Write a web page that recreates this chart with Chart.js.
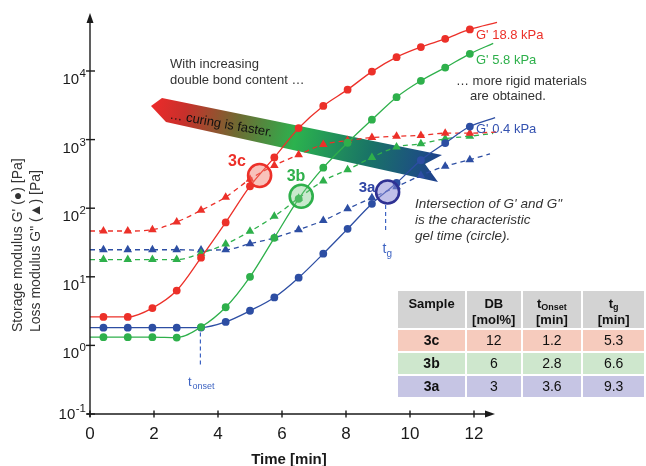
<!DOCTYPE html>
<html>
<head>
<meta charset="utf-8">
<script src="https://cdn.jsdelivr.net/npm/chart.js@4.4.1/dist/chart.umd.min.js"></script>
<style>
html,body{margin:0;padding:0;background:#fff;overflow:hidden;}
#wrap{position:relative;width:646px;height:466px;overflow:hidden;font-family:"Liberation Sans",Arial,Helvetica,sans-serif;}
#c{position:absolute;left:0;top:0;}
#tbl{position:absolute;left:396px;top:289px;border-collapse:collapse;table-layout:fixed;color:#111;}
#tbl td{border:2px solid #fff;text-align:center;padding:0;font-size:14px;box-sizing:border-box;}
#tbl tr.h td{background:#d3d3d3;font-weight:bold;font-size:13px;height:39px;vertical-align:top;padding-top:5px;line-height:16px;}
#tbl tr.r td{height:23px;line-height:19px;}
#tbl td.s{font-weight:bold;}
#tbl sub{font-size:9px;vertical-align:-2px;line-height:0;}
</style>
</head>
<body>
<div id="wrap">
<canvas id="c" width="646" height="466"></canvas>
<table id="tbl"><tbody id="tb"></tbody></table>
</div>
<script>
// ---------- data ----------
const times = [0.42,1.18,1.95,2.71,3.47,4.24,5.0,5.76,6.52,7.29,8.05,8.81,9.58,10.34,11.1,11.87];
const gp3c  = [2.6,2.6,3.5,6.3,19,62,209,550,1470,3100,5350,9800,15900,22300,29400,40300];
const gp3b  = [1.32,1.32,1.32,1.30,1.85,3.6,10,37,137,390,900,1950,4150,7200,11200,17800];
const gp3a  = [1.81,1.81,1.81,1.81,1.82,2.2,3.2,5.0,9.7,21.7,50,116,233,500,890,1550];
const gpp3c = [46.5,46.5,48.5,63,93,145,265,420,600,850,970,1070,1120,1150,1240,1240];
const gpp3b = [17.8,17.8,17.8,17.8,22,30,46,76,140,250,363,550,780,870,1030,1120];
const gpp3a = [24.8,24.8,24.8,24.8,24.5,24.8,30.3,37,48.6,66,98,142,205,300,410,510];
// fitted curves: value at t = 0 and where each curve ends (order: G'3c, G'3b, G'3a, G"3c, G"3b, G"3a)
const fitStartV = [2.6,1.32,1.81,46.5,17.8,24.8];
const fitEndT   = [12.72,12.6,12.66,12.7,12.6,12.5];
const fitEndV   = [51000,25300,2090,1290,1230,620];
// gel points (intersection of G' and G")
const gelLabels = ['3c','3b','3a'];
const gelT = [5.3,6.6,9.3];
const gelV = [300,149,172];
// onset
const onsetT = 3.45;
// axis ticks
const xTicks = [0,2,4,6,8,10,12];
const yTickExp = [-1,0,1,2,3,4];
// table
const tblSample = ['3c','3b','3a'];
const tblDB = ['12','6','3'];
const tblOnset = ['1.2','2.8','3.6'];
const tblTg = ['5.3','6.6','9.3'];

// ---------- table ----------
const rowBg = ['#f6cbbd','#cee7cd','#c6c5e4'];
(function(){
  const tb = document.getElementById('tb');
  let h = '<tr class="h"><td style="width:70px">Sample</td><td style="width:56px">DB<br>[mol%]</td><td style="width:62px">t<sub>Onset</sub><br>[min]</td><td style="width:64px">t<sub>g</sub><br>[min]</td></tr>';
  for (let i=0;i<tblSample.length;i++){
    const bg = rowBg[i];
    h += `<tr class="r"><td class="s" style="background:${bg}">${tblSample[i]}</td><td style="background:${bg}">${tblDB[i]}</td><td style="background:${bg}">${tblOnset[i]}</td><td style="background:${bg}">${tblTg[i]}</td></tr>`;
  }
  tb.innerHTML = h;
})();

// ---------- chart ----------
const RED='#ec3029', GREEN='#2eb04b', BLUE='#2d4ea3', LBLUE='#3d63c2';
const FONT='"Liberation Sans", Arial, Helvetica, sans-serif';

function series(vals, i){
  const pts=[{x:0,y:fitStartV[i]}];
  times.forEach((t,k)=>pts.push({x:t,y:vals[k]}));
  pts.push({x:fitEndT[i],y:fitEndV[i]});
  return pts;
}
function rad(r){ return ctx => (ctx.dataIndex===0 || ctx.dataIndex===times.length+1) ? 0 : r; }

function gpSet(vals,i,col){
  return {data:series(vals,i),borderColor:col,backgroundColor:col,pointBackgroundColor:col,pointBorderColor:col,
    borderWidth:1.3,pointStyle:'circle',pointRadius:rad(3.9),pointBorderWidth:0,cubicInterpolationMode:'monotone',clip:false,order:2};
}
function gppSet(vals,i,col){
  return {data:series(vals,i),borderColor:col,backgroundColor:col,pointBackgroundColor:col,pointBorderColor:col,
    borderWidth:1.3,borderDash:[5,4],pointStyle:'triangle',pointRadius:rad(5),pointBorderWidth:0,cubicInterpolationMode:'monotone',clip:false,order:3};
}

const arrowPlugin = {
  id:'arrow',
  beforeDatasetsDraw(chart){
    const c = chart.ctx;
    c.save();
    const g = c.createLinearGradient(151,100,442,165);
    g.addColorStop(0,'#ee2a2a');
    g.addColorStop(0.12,'#c8302b');
    g.addColorStop(0.3,'#6f6a32');
    g.addColorStop(0.5,'#2bb24e');
    g.addColorStop(0.75,'#197466');
    g.addColorStop(1,'#1e3f8e');
    c.beginPath();
    c.moveTo(151,106); c.lineTo(162,98); c.lineTo(442,155); c.lineTo(425,164); c.lineTo(438,182); c.lineTo(166,122);
    c.closePath();
    c.fillStyle=g; c.fill();
    c.translate(221,124); c.rotate(Math.atan2(18,102));
    c.fillStyle='#111'; c.font='13px '+FONT; c.textAlign='center'; c.textBaseline='middle';
    c.fillText('\u2026 curing is faster.',0,0);
    c.restore();
  }
};

function txt(c,s,x,y,font,col,align){
  c.font=font+' '+FONT; c.fillStyle=col; c.textAlign=align||'left'; c.textBaseline='alphabetic'; c.fillText(s,x,y);
}

const axesPlugin = {
  id:'axes',
  afterDatasetsDraw(chart){
    const c = chart.ctx, xs = chart.scales.x, ys = chart.scales.y;
    const x0 = xs.getPixelForValue(0), yb = ys.getPixelForValue(0.1);
    c.save();
    c.strokeStyle='#1a1a1a'; c.fillStyle='#1a1a1a'; c.lineWidth=1.4;
    // y axis
    c.beginPath(); c.moveTo(x0,yb+3); c.lineTo(x0,20); c.stroke();
    c.beginPath(); c.moveTo(x0,13); c.lineTo(x0-3.5,23); c.lineTo(x0+3.5,23); c.closePath(); c.fill();
    // x axis
    c.beginPath(); c.moveTo(x0-3,yb); c.lineTo(488,yb); c.stroke();
    c.beginPath(); c.moveTo(495,yb); c.lineTo(485,yb-3.5); c.lineTo(485,yb+3.5); c.closePath(); c.fill();
    // x ticks
    xTicks.forEach(v=>{
      const px = xs.getPixelForValue(v);
      c.beginPath(); c.moveTo(px,yb-3.5); c.lineTo(px,yb+3.5); c.stroke();
      txt(c,String(v),px,439,'17px','#1a1a1a','center');
    });
    // y ticks
    yTickExp.forEach(e=>{
      const py = ys.getPixelForValue(Math.pow(10,e));
      c.strokeStyle='#1a1a1a'; c.lineWidth=1.4;
      c.beginPath(); c.moveTo(x0-4,py); c.lineTo(x0+5,py); c.stroke();
      const es = e<0 ? '-'+Math.abs(e) : String(e);
      const off = e===-1 ? -8 : 0;
      c.font='11.5px '+FONT; const ew = c.measureText(es).width;
      txt(c,es,86,py+6+off,'11.5px','#1a1a1a','right');
      txt(c,'10',86-ew-0.5,py+13+off,'15px','#1a1a1a','right');
    });
    // axis titles
    txt(c,'Time [min]',289,464,'bold 15px','#1a1a1a','center');
    c.save(); c.translate(18,332); c.rotate(-Math.PI/2);
    c.font='14px '+FONT; c.fillStyle='#333'; c.textAlign='left'; c.textBaseline='middle';
    c.fillText('Storage modulus G\' (\u25CF) [Pa]',0,0);
    c.fillText('Loss modulus G" (\u25B2) [Pa]',0,18);
    c.restore();
    // onset and gel-time markers
    c.strokeStyle=LBLUE; c.lineWidth=1.2; c.setLineDash([4,3]);
    const ox = xs.getPixelForValue(onsetT);
    c.beginPath(); c.moveTo(ox,ys.getPixelForValue(1.82)+5); c.lineTo(ox,366); c.stroke();
    const gx = xs.getPixelForValue(gelT[2]) - 2;
    c.beginPath(); c.moveTo(gx,ys.getPixelForValue(gelV[2])+13); c.lineTo(gx,232); c.stroke();
    c.setLineDash([]);
    txt(c,'t',gx-3,253,'14px',LBLUE,'left');
    txt(c,'g',gx+1,257,'10px',LBLUE,'left');
    txt(c,'t',188,386,'13px',LBLUE,'left');
    txt(c,'onset',192.5,389,'9px',LBLUE,'left');
    // gel labels
    txt(c,'3c',237,166,'bold 16px',RED,'center');
    txt(c,'3b',296,181,'bold 16px',GREEN,'center');
    txt(c,'3a',367,192,'bold 15px','#3046a6','center');
    // curve labels
    txt(c,'G\' 18.8 kPa',476,39,'13px',RED);
    txt(c,'G\' 5.8 kPa',476,64,'13px',GREEN);
    txt(c,'G\' 0.4 kPa',476,133,'13px','#3452b0');
    // annotations
    txt(c,'With increasing',170,68,'13px','#333');
    txt(c,'double bond content \u2026',170,84,'13px','#333');
    txt(c,'\u2026 more rigid materials',456,85,'13px','#333');
    txt(c,'are obtained.',470,100,'13px','#333');
    txt(c,'Intersection of G\' and G"',415,208,'italic 13.5px','#333');
    txt(c,'is the characteristic',415,224,'italic 13.5px','#333');
    txt(c,'gel time (circle).',415,240,'italic 13.5px','#333');
    c.restore();
  }
};

new Chart(document.getElementById('c'),{
  type:'line',
  data:{datasets:[
    {data:gelT.map((t,i)=>({x:t,y:gelV[i]})),showLine:false,pointStyle:'circle',pointRadius:11.5,pointBorderWidth:2.6,
     pointBackgroundColor:['rgba(240,120,105,0.45)','rgba(120,200,130,0.4)','rgba(140,140,215,0.55)'],
     pointBorderColor:[RED,GREEN,'#2e3193'],clip:false,order:0},
    gpSet(gp3c,0,RED), gpSet(gp3b,1,GREEN), gpSet(gp3a,2,BLUE),
    gppSet(gpp3c,3,RED), gppSet(gpp3b,4,GREEN), gppSet(gpp3a,5,BLUE)
  ]},
  options:{
    responsive:false, animation:false, events:[],
    layout:{padding:{left:90,top:15,right:148,bottom:52}},
    scales:{
      x:{type:'linear',min:0,max:12.75,display:false},
      y:{type:'logarithmic',min:0.1,max:65500,display:false}
    },
    plugins:{legend:{display:false},tooltip:{enabled:false}}
  },
  plugins:[arrowPlugin,axesPlugin]
});
</script>
</body>
</html>
